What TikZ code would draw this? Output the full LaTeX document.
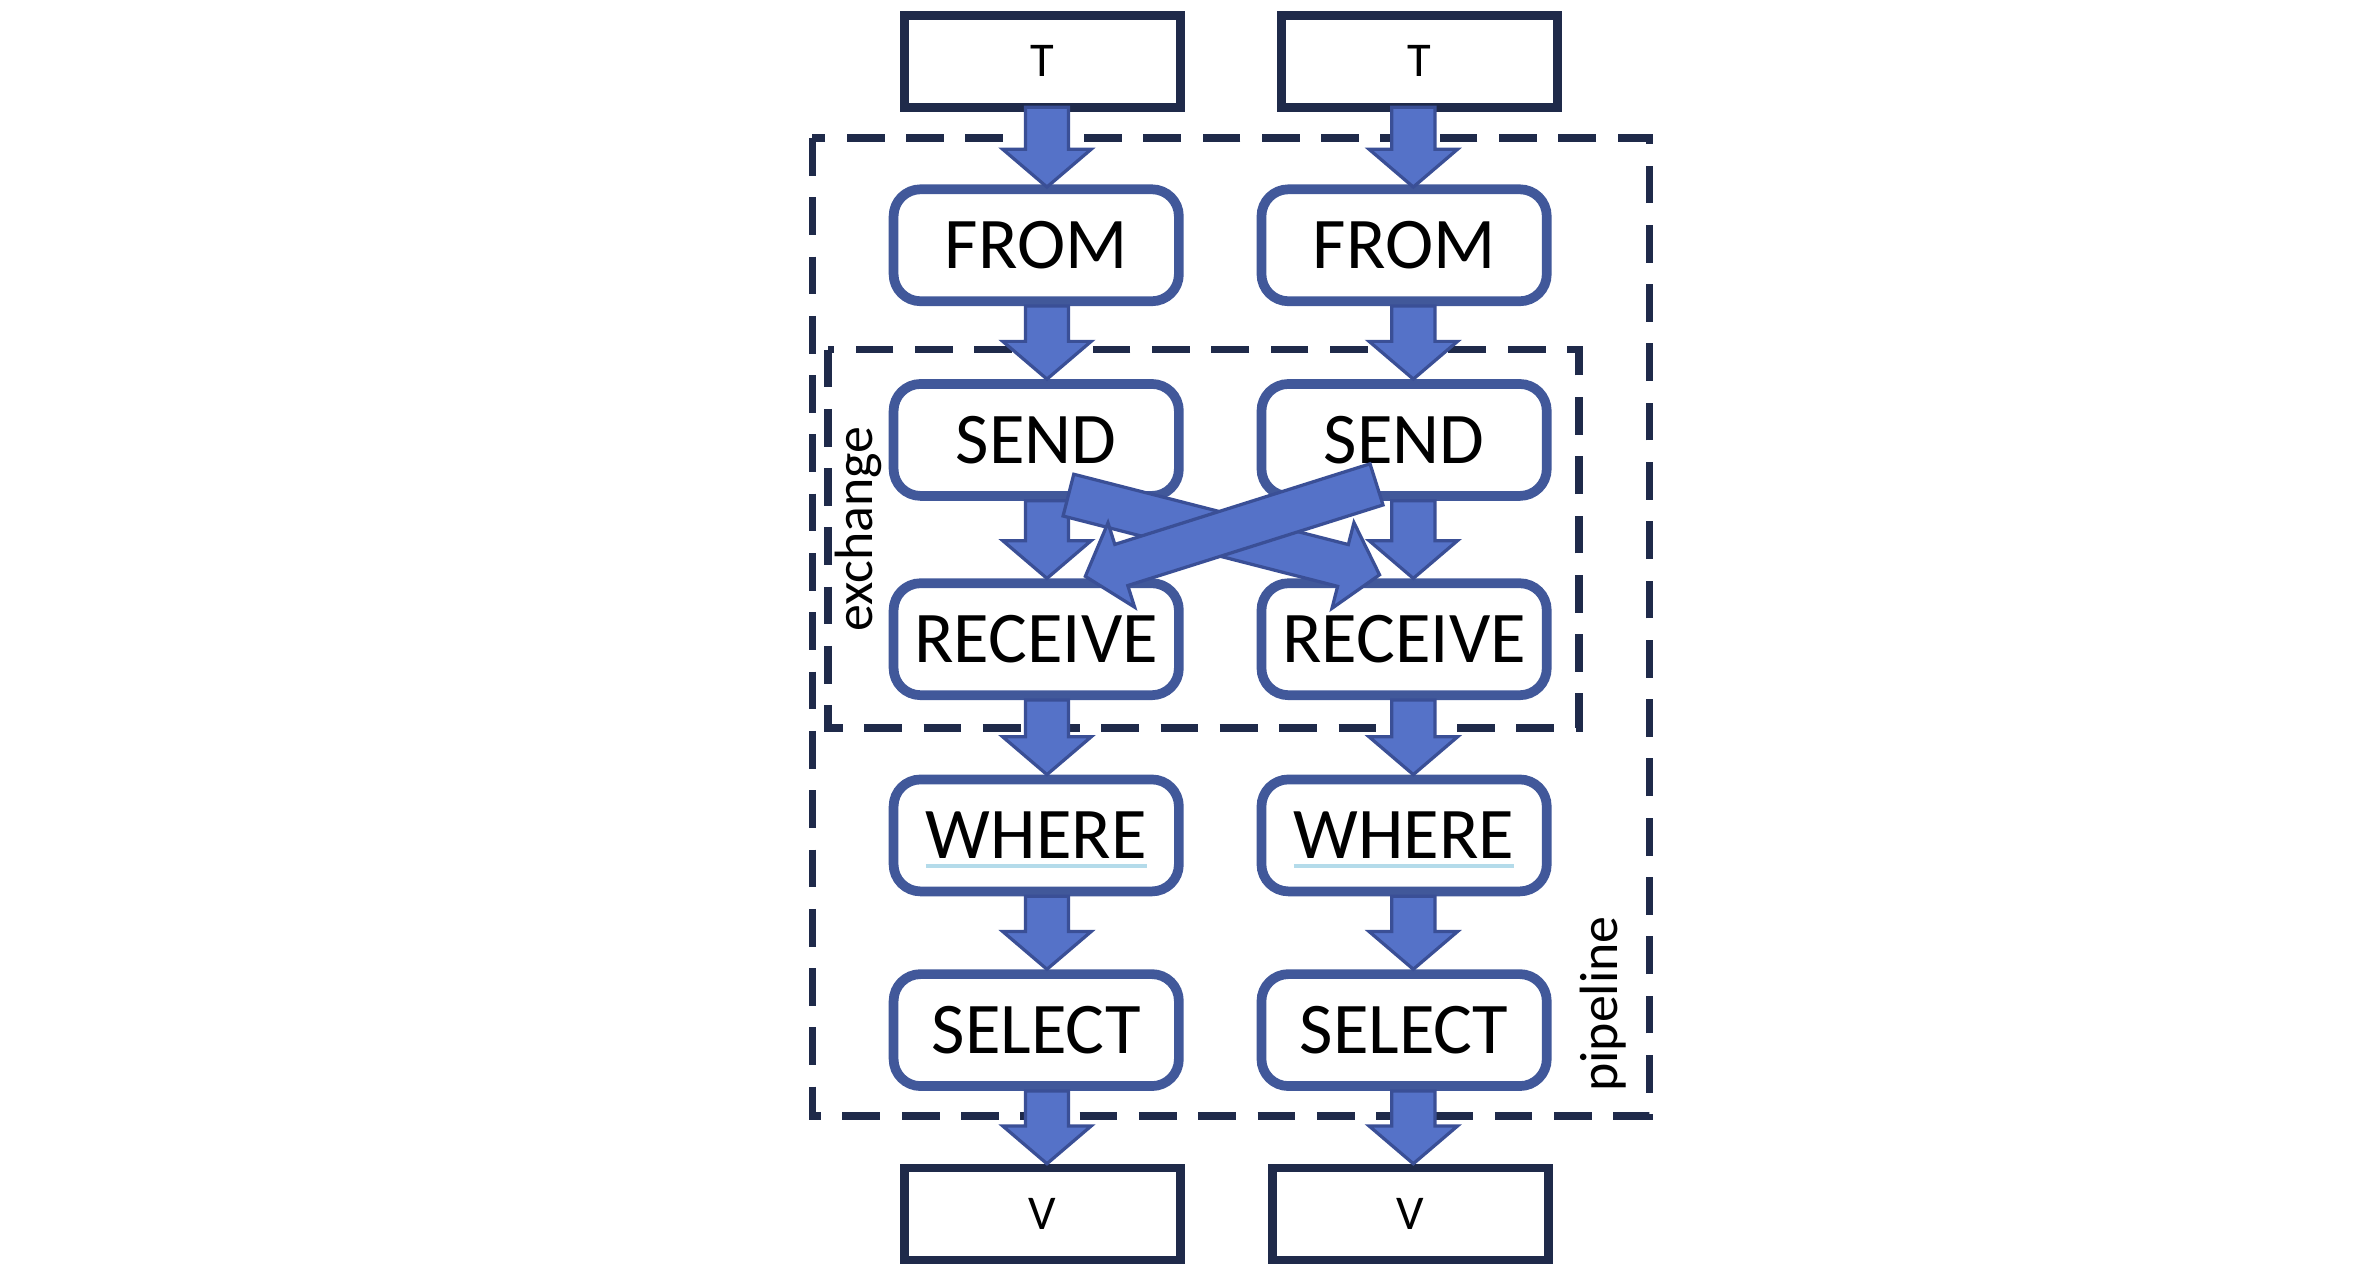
\documentclass[tikz,border=0pt]{standalone}
\usepackage{fontspec}
\setmainfont{Carlito}
\usetikzlibrary{calc,positioning}
\definecolor{navy}{HTML}{1F2A4A}
\definecolor{opblue}{HTML}{41589A}
\definecolor{arrblue}{HTML}{5572C8}
\definecolor{arredge}{HTML}{3A4F96}
\newcommand{\fatarrow}[2]{%
  \draw[fat] let \p1=(#1), \p2=(#2), \n1={atan2(\y2-\y1,\x2-\x1)}, \n2={veclen(\x2-\x1,\y2-\y1)} in
    [shift={(\p1)}, rotate=\n1] (0pt,-4pt) -- ({\n2-7pt},-4pt) -- ({\n2-7pt},-8.2pt) -- (\n2,0pt)
    -- ({\n2-7pt},8.2pt) -- ({\n2-7pt},4pt) -- (0pt,4pt) -- cycle;}
\begin{document}
\begin{tikzpicture}[x=0.01cm,y=-0.01cm]
	\tikzset{table/.style = {draw=navy, line width=1.6pt, rectangle, minimum width=1.8cm, minimum height=0.6cm, font=\fontsize{9}{10}\selectfont},
		op/.style = {draw=opblue, line width=1.8pt, rectangle, rounded corners=5pt, minimum width=1.86cm, minimum height=0.73cm, fill=white, font=\fontsize{13.5}{14}\selectfont},
		fat/.style = {fill=arrblue, draw=arredge, line width=0.6pt},
		frame/.style = {draw=navy, line width=1.4pt, dash pattern=on 7pt off 4pt}}
	\useasboundingbox (0,0) rectangle (1552,830);
	
	\draw[frame] (530,90) rectangle (1076,728);
	\draw[frame] (540,228) rectangle (1030,475);
	\node[rotate=90, font=\fontsize{10}{11}\selectfont] (exch) at (560,345) {exchange};
	\node[rotate=90, font=\fontsize{10}{11}\selectfont] (pipe) at (1046,655) {pipeline};
	
	\node[table] (lT) at (680,40) {T};
	\node[table] (rT) at (926,40) {T};
	\node[op] (lfrom) at (676,160) {FROM};
	\node[op] (rfrom) at (916,160) {FROM};
	\node[op] (lsend) at (676,287) {SEND};
	\node[op] (rsend) at (916,287) {SEND};
	\node[op] (lrecv) at (676,417) {RECEIVE};
	\node[op] (rrecv) at (916,417) {RECEIVE};
	\node[op] (lwhere) at (676,545) {WHERE};
	\node[op] (rwhere) at (916,545) {WHERE};
	\node[op] (lsel) at (676,672) {SELECT};
	\node[op] (rsel) at (916,672) {SELECT};
	\node[table] (lV) at (680,792) {V};
	\node[table] (rV) at (920,792) {V};
	
	% underline of WHERE
	\draw[gray!40!cyan!40, line width=0.8pt] ($(lwhere.center)+(-72,20)$) -- ($(lwhere.center)+(72,20)$);
	\draw[gray!40!cyan!40, line width=0.8pt] ($(rwhere.center)+(-72,20)$) -- ($(rwhere.center)+(72,20)$);
	
	% arrows
	\coordinate (a1) at (683,70);  \coordinate (b1) at (683,122);
	\coordinate (a2) at (922,70);  \coordinate (b2) at (922,122);
	\fatarrow{a1}{b1}
	\fatarrow{a2}{b2}
	\fatarrow{lfrom.south -| a1}{lsend.north -| a1}
	\fatarrow{rfrom.south -| a2}{rsend.north -| a2}
	\fatarrow{lsend.south -| a1}{lrecv.north -| a1}
	\fatarrow{rsend.south -| a2}{rrecv.north -| a2}
	\fatarrow{lrecv.south -| a1}{lwhere.north -| a1}
	\fatarrow{rrecv.south -| a2}{rwhere.north -| a2}
	\fatarrow{lwhere.south -| a1}{lsel.north -| a1}
	\fatarrow{rwhere.south -| a2}{rsel.north -| a2}
	\fatarrow{lsel.south -| a1}{lV.north -| a1}
	\fatarrow{rsel.south -| a2}{rV.north -| a2}
	\coordinate (x1) at (697,323); \coordinate (y1) at (900,375);
	\coordinate (x2) at (898,316); \coordinate (y2) at (708,376);
	\fatarrow{x1}{y1}
	\fatarrow{x2}{y2}
\end{tikzpicture}
\end{document}
